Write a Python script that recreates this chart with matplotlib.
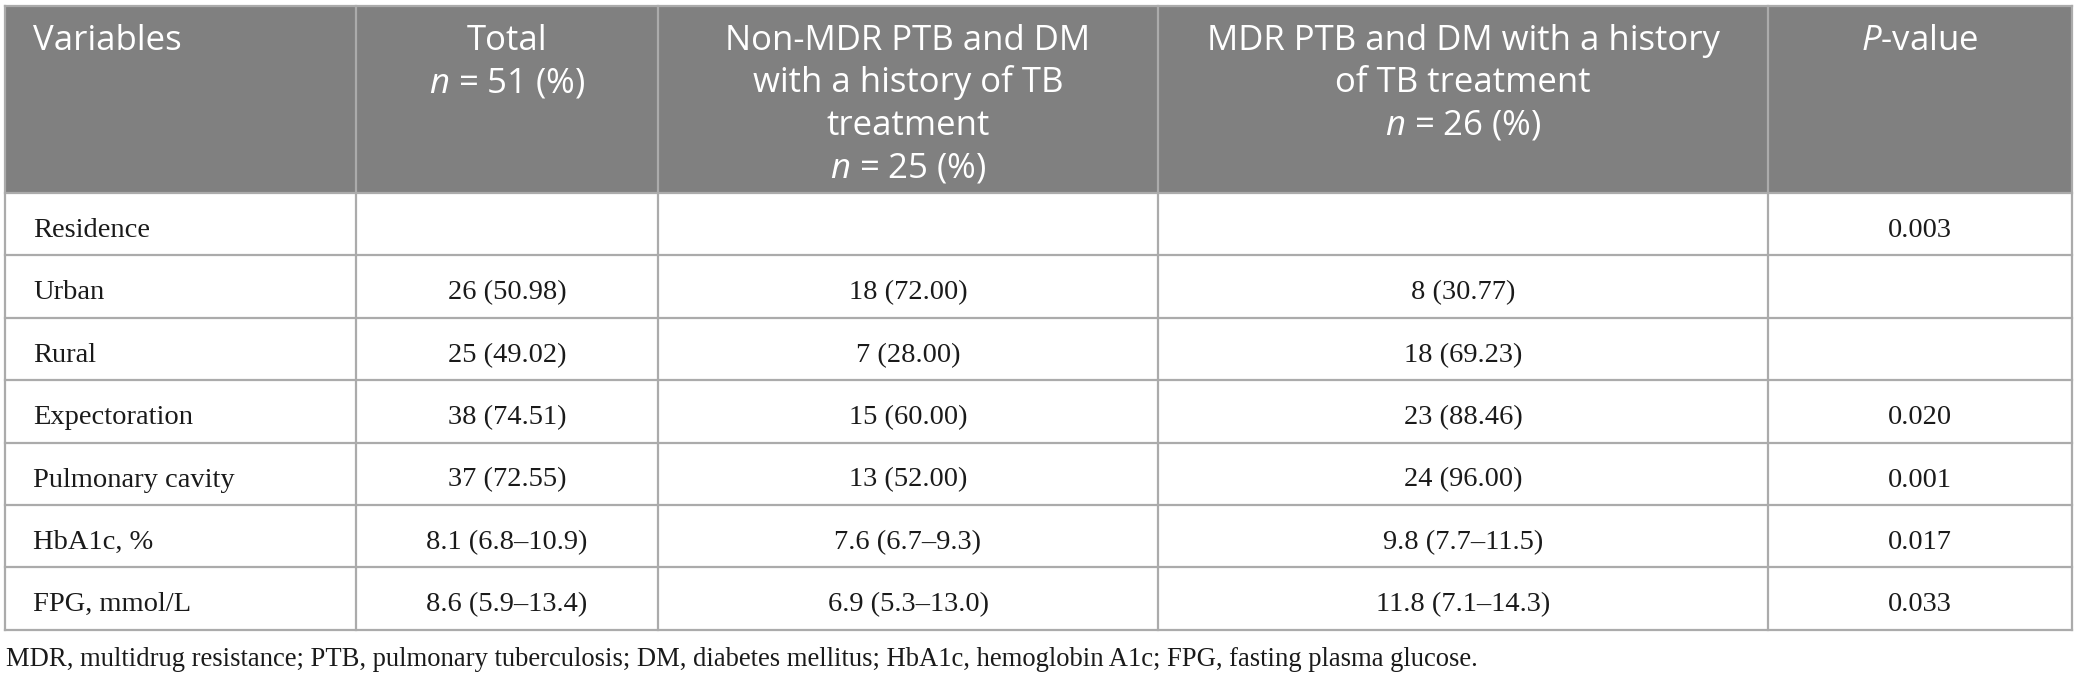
import matplotlib
matplotlib.use("Agg")
import matplotlib.pyplot as plt
from matplotlib.patches import Rectangle

# ---- data ----
header_variables = ["Variables"]
header_total = ["Total", "$n$ = 51 (%)"]
header_nonmdr = ["Non-MDR PTB and DM", "with a history of TB", "treatment", "$n$ = 25 (%)"]
header_mdr = ["MDR PTB and DM with a history", "of TB treatment", "$n$ = 26 (%)"]
header_p = ["$P$-value"]

variables = ["Residence", "Urban", "Rural", "Expectoration", "Pulmonary cavity",
             "HbA1c, %", "FPG, mmol/L"]
total = ["", "26 (50.98)", "25 (49.02)", "38 (74.51)", "37 (72.55)",
         "8.1 (6.8\u201310.9)", "8.6 (5.9\u201313.4)"]
non_mdr = ["", "18 (72.00)", "7 (28.00)", "15 (60.00)", "13 (52.00)",
           "7.6 (6.7\u20139.3)", "6.9 (5.3\u201313.0)"]
mdr = ["", "8 (30.77)", "18 (69.23)", "23 (88.46)", "24 (96.00)",
       "9.8 (7.7\u201311.5)", "11.8 (7.1\u201314.3)"]
p_values = ["0.003", "", "", "0.020", "0.001", "0.017", "0.033"]

footnote = ("MDR, multidrug resistance; PTB, pulmonary tuberculosis; DM, diabetes mellitus; "
            "HbA1c, hemoglobin A1c; FPG, fasting plasma glucose.")

# ---- layout (pixels) ----
W, H = 2078, 682
col_edges = [5, 356, 658, 1158, 1768, 2072]
header_top, header_bot = 7, 193
row_h = 62.4
n_rows = len(variables)
table_bot = header_bot + row_h * n_rows

plt.rcParams['mathtext.fontset'] = 'custom'
plt.rcParams['mathtext.rm'] = 'Open Sans'
plt.rcParams['mathtext.it'] = 'Open Sans:italic'

fig = plt.figure(figsize=(W / 100, H / 100), dpi=100)
ax = fig.add_axes([0, 0, 1, 1])
ax.set_xlim(0, W)
ax.set_ylim(H, 0)
ax.axis("off")

header_bg = "#808080"
line_c = "#ababab"
txt_c = "#1a1a1a"

# header background
ax.add_patch(Rectangle((col_edges[0], header_top), col_edges[-1] - col_edges[0],
                       header_bot - header_top, facecolor=header_bg, edgecolor="none", zorder=0))

# grid lines
lw = 1.6
ax.plot([col_edges[0], col_edges[-1]], [header_top - 1, header_top - 1], color=line_c, lw=lw, zorder=2)
for i in range(n_rows + 1):
    y = header_bot + i * row_h
    ax.plot([col_edges[0], col_edges[-1]], [y, y], color=line_c, lw=lw, zorder=2)
for x in col_edges:
    ax.plot([x, x], [header_top - 1, table_bot], color=line_c, lw=lw, zorder=2)

# header text
hfont = dict(family="Open Sans", fontsize=25, color="white")
base0, lsp = 50, 42.5
headers = [header_variables, header_total, header_nonmdr, header_mdr, header_p]
for c, lines in enumerate(headers):
    for j, line in enumerate(lines):
        y = base0 + j * lsp
        if c == 0:
            ax.text(col_edges[0] + 28, y, line, ha="left", va="baseline", **hfont, zorder=3)
        else:
            xc = (col_edges[c] + col_edges[c + 1]) / 2
            ax.text(xc, y, line, ha="center", va="baseline", **hfont, zorder=3)

# body text
bfont = dict(family="Liberation Serif", fontsize=20.5, color=txt_c)
columns = [variables, total, non_mdr, mdr, p_values]
for c, col in enumerate(columns):
    for r, val in enumerate(col):
        y = header_bot + r * row_h + 44
        if c == 0:
            ax.text(col_edges[0] + 28, y, val, ha="left", va="baseline", **bfont, zorder=3)
        else:
            xc = (col_edges[c] + col_edges[c + 1]) / 2
            ax.text(xc, y, val, ha="center", va="baseline", **bfont, zorder=3)

ax.text(col_edges[0] + 1, 666, footnote, ha="left", va="baseline",
        family="Liberation Serif", fontsize=19.2, color=txt_c)

fig.savefig("out.png", dpi=100)
